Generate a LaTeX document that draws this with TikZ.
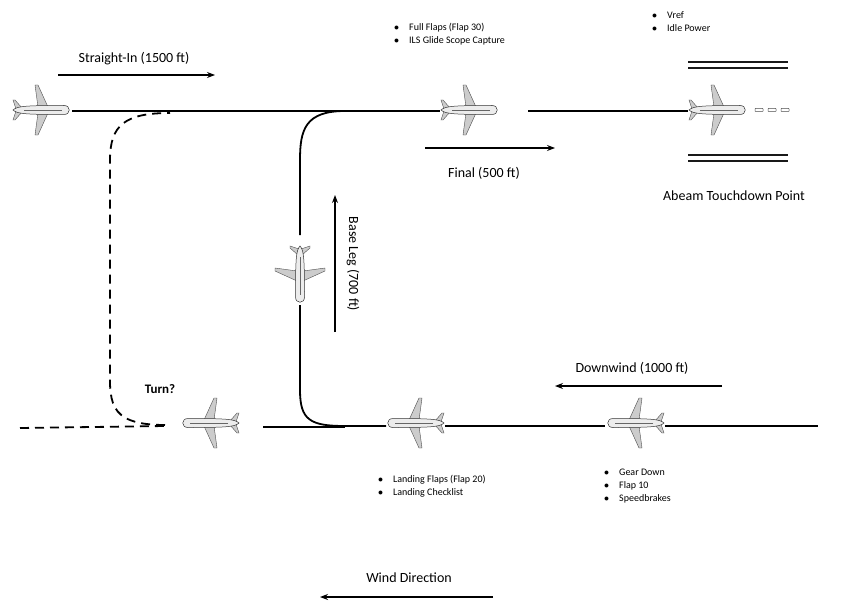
\documentclass[tikz,border=0pt]{standalone}
\usepackage{fontspec}
\setmainfont{Carlito}
\usetikzlibrary{arrows.meta}
\begin{document}
\begin{tikzpicture}[x=1pt,y=-1pt,
  path/.style={line width=1.8pt},
  dpath/.style={line width=1.8pt,dash pattern=on 9pt off 6pt},
  arr/.style={line width=1.2pt,-{Stealth[length=8pt,width=6pt]}},
  lbl/.style={font=\fontsize{14}{16}\selectfont,inner sep=1pt},
  bul/.style={font=\fontsize{10}{13}\selectfont,align=left,inner sep=1pt},
  rw/.style={line width=1.2pt,gray!20!black},
  plane/.pic={
    \fill[gray!40,draw=black!70,line width=0.4pt] (6,-3) -- (-4,-25) -- (-7,-25) -- (-4,-3) -- cycle;
    \fill[gray!40,draw=black!70,line width=0.4pt] (6,3) -- (-4,25) -- (-7,25) -- (-4,3) -- cycle;
    \fill[gray!40,draw=black!70,line width=0.4pt] (-20,-2) -- (-27,-10) -- (-29,-10) -- (-26,-1) -- cycle;
    \fill[gray!40,draw=black!70,line width=0.4pt] (-20,2) -- (-27,10) -- (-29,10) -- (-26,1) -- cycle;
    \fill[gray!15,draw=black!80,line width=0.5pt] (-29,0) .. controls (-25,-4) and (-15,-4.5) .. (22,-4.5) .. controls (29,-4.5) and (29,4.5) .. (22,4.5) .. controls (-15,4.5) and (-25,4) .. (-29,0) -- cycle;
    \draw[black!60,line width=0.3pt] (-18,0) -- (20,0);
  }]
\useasboundingbox (0,0) rectangle (853,615);
% planes
\pic at (42,110) {plane};
\pic at (470,110) {plane};
\pic at (718,110) {plane};
\pic[rotate=-90] at (300,275) {plane};
\pic[rotate=180] at (210,423) {plane};
\pic[rotate=180] at (415,423) {plane};
\pic[rotate=180] at (635,423) {plane};
\coordinate (a1) at (72,111); \coordinate (a2) at (440,111);
\coordinate (a3) at (528,111); \coordinate (a4) at (688,111);
\draw[path] (a1) -- (a2);
\draw[path] (a3) -- (a4);
\draw[path] (345,111) .. controls (305,111) and (300,130) .. (300,160) -- (300,235);
\draw[path] (300,305) -- (300,390) .. controls (300,420) and (310,426) .. (345,426) -- (386,426);
\draw[path] (263,427) -- (345,427);
\draw[path] (445,426) -- (605,426);
\draw[path] (665,426) -- (818,426);
\draw[dpath] (20,428) -- (165,426);
\draw[dpath] (165,425) .. controls (105,425) and (110,400) .. (110,360) -- (110,160) .. controls (110,125) and (125,113) .. (170,113);
% runway
\draw[rw] (688,62) -- (788,62); \draw[rw] (688,68) -- (788,68);
\draw[rw] (688,155) -- (788,155); \draw[rw] (688,161) -- (788,161);
\foreach \x in {755,768,781}{\draw[black!70,line width=0.5pt,rounded corners=0.5pt] (\x,108.5) rectangle ++(8,3);}
% arrows
\draw[arr] (58,75) -- (215,75);
\draw[arr] (425,148) -- (555,148);
\draw[arr] (335,332) -- (335,195);
\draw[arr] (722,386) -- (555,386);
\draw[arr] (493,597) -- (320,597);
% labels
\node[lbl] (si) at (134,59) {Straight-In (1500 ft)};
\node[lbl] (fi) at (484,173) {Final (500 ft)};
\node[lbl,rotate=-90] (bl) at (353,264) {Base Leg (700 ft)};
\node[lbl] (dw) at (632,368) {Downwind (1000 ft)};
\node[lbl] (wd) at (409,578) {Wind Direction};
\node[lbl] (at) at (734,196) {Abeam Touchdown Point};
\node[lbl,font=\fontsize{13}{15}\selectfont\bfseries] (tu) at (160,389) {Turn?};
\node[bul,anchor=north west] (b1) at (393,22) {$\bullet$\quad Full Flaps (Flap 30)\\$\bullet$\quad ILS Glide Scope Capture};
\node[bul,anchor=north west] (b2) at (651,10) {$\bullet$\quad Vref\\$\bullet$\quad Idle Power};
\node[bul,anchor=north west] (b3) at (377,474) {$\bullet$\quad Landing Flaps (Flap 20)\\$\bullet$\quad Landing Checklist};
\node[bul,anchor=north west] (b4) at (603,468) {$\bullet$\quad Gear Down\\$\bullet$\quad Flap 10\\$\bullet$\quad Speedbrakes};
\end{tikzpicture}
\end{document}
